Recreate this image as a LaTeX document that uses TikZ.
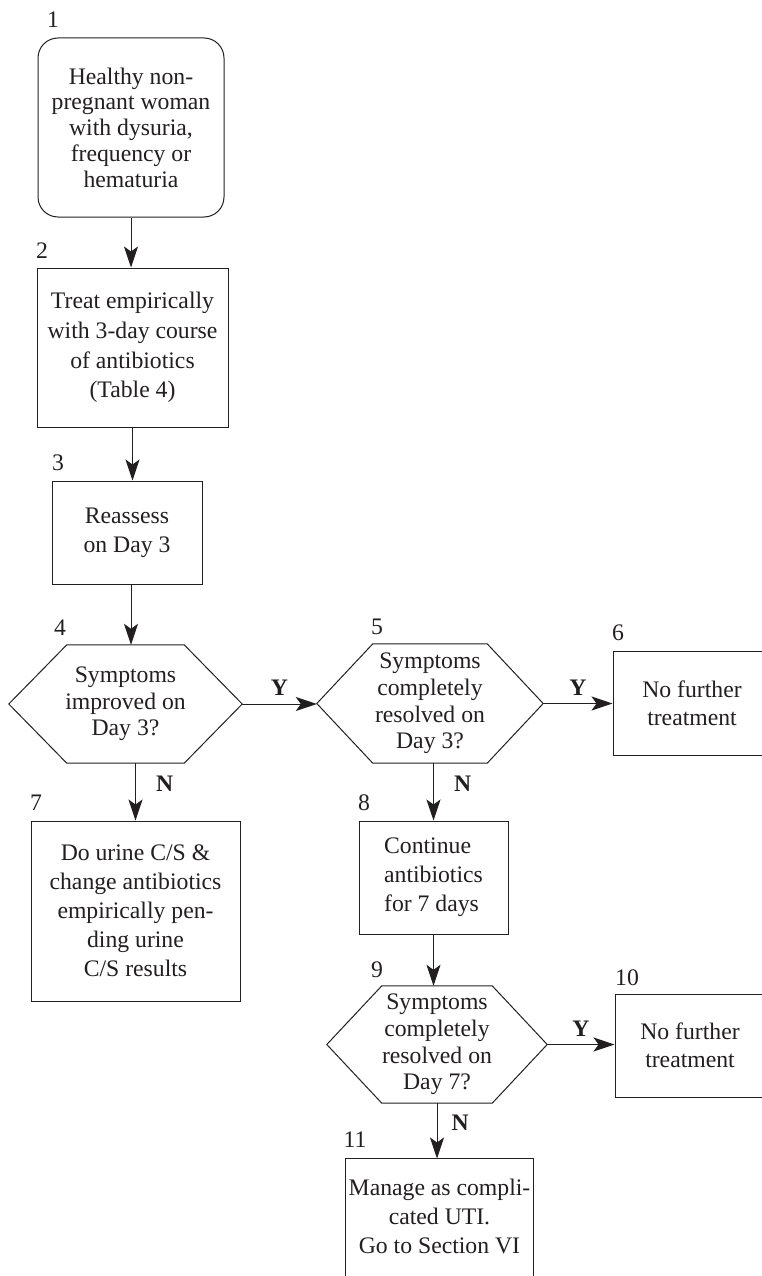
\documentclass[tikz,border=0pt]{standalone}
\usepackage{fontspec}
\setmainfont{Liberation Serif}
\usetikzlibrary{arrows.meta}
\definecolor{ink}{RGB}{35,31,32}
\newcommand\drawhexagon[2]{\draw[ink, line width=1pt] ([xshift=#2pt]#1.north west) -- ([xshift=-#2pt]#1.north east) -- (#1.east) -- ([xshift=-#2pt]#1.south east) -- ([xshift=#2pt]#1.south west) -- (#1.west) -- cycle;}
\tikzset{
  every node/.style={font=\fontsize{23.7}{28}\selectfont, text=ink},
  box/.style={draw=ink, line width=1pt, inner sep=0pt, align=center},
  hexbox/.style={inner sep=0pt, align=center, font=\fontsize{23.7}{26.6}\selectfont},
  num/.style={inner sep=0pt},
  yn/.style={inner sep=0pt, font=\fontsize{23.7}{28}\selectfont\bfseries},
  arr/.style={draw=ink, line width=1pt, -{Stealth[length=21pt,width=14pt,inset=5pt]}},
  bs/.style={font=\fontsize{23.7}{#1}\selectfont},
}
\begin{document}
\begin{tikzpicture}[x=1pt,y=-1pt]
\useasboundingbox (0,0) rectangle (762,1276);
\clip (0,0) rectangle (762,1276);
\fill[white] (0,0) rectangle (762,1276);

% boxes
\node[box, rounded corners=20pt, minimum width=186pt, minimum height=179pt, bs=25.8] (b1) at (131,127.5)
  {Healthy non-\\pregnant woman\\with dysuria,\\frequency or\\hematuria};
\node[box, minimum width=191pt, minimum height=159pt, bs=29.8] (b2) at (132.5,347.5)
  {Treat empirically\\with 3-day course\\of antibiotics\\(Table 4)};
\node[box, minimum width=150pt, minimum height=103pt, bs=29] (b3) at (127,532.5)
  {Reassess\\on Day 3};
\node[hexbox, minimum width=233pt, minimum height=118pt] (h4) at (125.5,704)
  {Symptoms\\improved on\\Day 3?};
\drawhexagon{h4}{58}
\node[hexbox, minimum width=226pt, minimum height=119pt] (h5) at (430,703.5)
  {Symptoms\\completely\\resolved on\\Day 3?};
\drawhexagon{h5}{56}
\node[box, minimum width=158pt, minimum height=104pt, bs=28] (b6) at (692,703)
  {No further\\treatment};
\node[box, minimum width=209pt, minimum height=180pt, bs=29] (b7) at (135.5,911)
  {Do urine C/S \&\\change antibiotics\\empirically pen-\\ding urine\\C/S results};
\node[box, minimum width=149pt, minimum height=113pt, bs=29, align=left] (b8) at (433.5,877.5)
  {Continue\\antibiotics\\for 7 days};
\node[hexbox, minimum width=220pt, minimum height=117pt] (h9) at (437,1044.5)
  {Symptoms\\completely\\resolved on\\Day 7?};
\drawhexagon{h9}{55}
\node[box, minimum width=150pt, minimum height=103pt, bs=28] (b10) at (690,1045.5)
  {No further\\treatment};
\node[box, draw=none, minimum width=187pt, minimum height=114pt, bs=29] (b11) at (439.5,1216)
  {Manage as compli-\\cated UTI.\\Go to Section VI};
\draw[ink, line width=1pt] ([yshift=-80pt]b11.south west) -- (b11.north west) -- (b11.north east) -- ([yshift=-80pt]b11.south east);

% numbers
\node[num] (n1) at (53,20) {1};
\node[num] (n2) at (42,251) {2};
\node[num] (n3) at (58,463) {3};
\node[num] (n4) at (60,628) {4};
\node[num] (n5) at (377,627) {5};
\node[num] (n6) at (618,633) {6};
\node[num] (n7) at (36,803) {7};
\node[num] (n8) at (364,803) {8};
\node[num] (n9) at (377,970) {9};
\node[num] (n10) at (627,978) {10};
\node[num] (n11) at (355,1140) {11};

% connectors
\draw[arr] (b1.south) -- (b1.south |- b2.north);
\draw[arr] (b2.south) -- (b2.south |- b3.north);
\draw[arr] ([xshift=4pt]b3.south) -- ([xshift=4pt]b3.south |- h4.north);
\draw[arr] (b7.north |- h4.south) -- node[yn, right=20pt, pos=0.35] (n4n) {N} (b7.north);
\draw[arr] (h4.east) -- node[yn, above=8pt] (n4y) {Y} (h4.east -| h5.west);
\draw[arr] (h5.east) -- node[yn, above=8pt] (n5y) {Y} (h5.east -| b6.west);
\draw[arr] (b8.north |- h5.south) -- node[yn, right=20pt, pos=0.35] (n5n) {N} (b8.north);
\draw[arr] (b8.south) -- (b8.south |- h9.north);
\draw[arr] (h9.east) -- node[yn, above=8pt] (n9y) {Y} (h9.east -| b10.west);
\draw[arr] (h9.south) -- node[yn, right=14pt, pos=0.35] (n9n) {N} (h9.south |- b11.north);
\end{tikzpicture}
\end{document}
